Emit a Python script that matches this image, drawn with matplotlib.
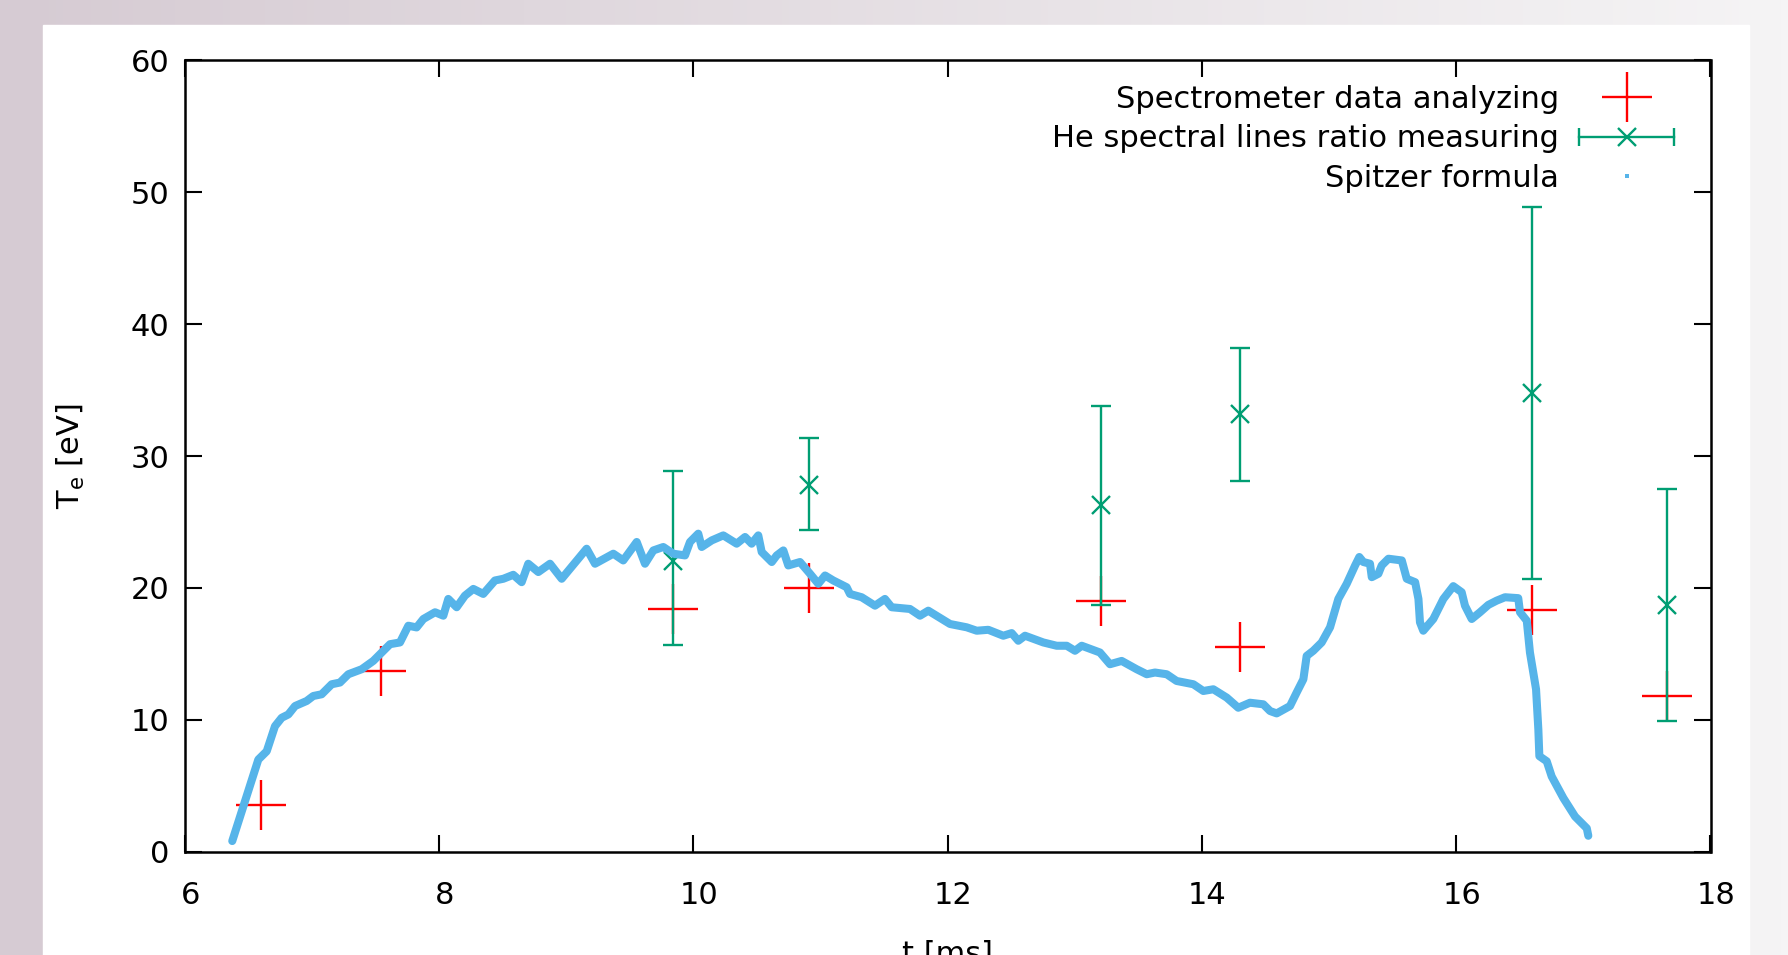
import numpy as np
import matplotlib
matplotlib.use("Agg")
import matplotlib.pyplot as plt
import matplotlib.transforms as mtrans
from matplotlib.lines import Line2D
from matplotlib.patches import Rectangle
from matplotlib.legend_handler import HandlerLine2D, HandlerTuple

# spectrometer points
spec_t = [6.60, 7.54, 9.84, 10.91, 13.21, 14.30, 16.60, 17.66]
spec_te = [3.5, 13.7, 18.4, 20.0, 19.0, 15.5, 18.3, 11.8]

# He line ratio points with error bars
he_t = [9.84, 10.91, 13.21, 14.30, 16.60, 17.66]
he_te = [22.0, 27.8, 26.3, 33.2, 34.8, 18.7]
he_lo = [15.7, 24.4, 18.7, 28.1, 20.7, 9.9]
he_hi = [28.9, 31.4, 33.8, 38.2, 48.9, 27.5]

# Spitzer formula curve
spitzer_t = [6.374, 6.461, 6.579, 6.645, 6.710, 6.763, 6.815, 6.868, 6.959, 7.011,
             7.077, 7.156, 7.221, 7.287, 7.392, 7.483, 7.615, 7.693, 7.759, 7.824,
             7.877, 7.969, 8.034, 8.073, 8.139, 8.204, 8.270, 8.348, 8.440, 8.506,
             8.584, 8.650, 8.702, 8.781, 8.873, 8.965, 9.096, 9.161, 9.227, 9.371,
             9.449, 9.555, 9.620, 9.686, 9.764, 9.843, 9.935, 9.974, 10.039, 10.066,
             10.145, 10.236, 10.341, 10.407, 10.459, 10.511, 10.538, 10.617, 10.656, 10.708,
             10.747, 10.839, 10.918, 10.983, 11.036, 11.101, 11.206, 11.232, 11.324, 11.429,
             11.507, 11.560, 11.704, 11.783, 11.848, 12.019, 12.150, 12.229, 12.320, 12.438,
             12.504, 12.556, 12.609, 12.753, 12.858, 12.937, 13.002, 13.055, 13.198, 13.277,
             13.369, 13.487, 13.566, 13.631, 13.723, 13.801, 13.933, 14.011, 14.090, 14.195,
             14.286, 14.378, 14.483, 14.536, 14.588, 14.693, 14.745, 14.798, 14.824, 14.876,
             14.942, 15.008, 15.073, 15.139, 15.205, 15.238, 15.270, 15.322, 15.336, 15.388,
             15.414, 15.467, 15.572, 15.611, 15.677, 15.703, 15.715, 15.741, 15.820, 15.899,
             15.977, 16.043, 16.069, 16.122, 16.187, 16.253, 16.318, 16.384, 16.488, 16.502,
             16.555, 16.580, 16.628, 16.646, 16.654, 16.712, 16.751, 16.843, 16.935, 17.027,
             17.039]
spitzer_te = [0.8, 3.42, 6.98, 7.61, 9.51, 10.15, 10.40, 11.04, 11.42, 11.80,
              11.93, 12.69, 12.82, 13.45, 13.83, 14.46, 15.73, 15.86, 17.13, 17.00,
              17.64, 18.15, 17.89, 19.16, 18.53, 19.41, 19.92, 19.54, 20.56, 20.69,
              20.99, 20.43, 21.83, 21.20, 21.83, 20.69, 22.21, 22.97, 21.83, 22.59,
              22.08, 23.48, 21.83, 22.84, 23.10, 22.59, 22.46, 23.48, 24.11, 23.10,
              23.60, 23.98, 23.35, 23.86, 23.35, 23.98, 22.72, 21.96, 22.46, 22.84,
              21.70, 21.96, 21.07, 20.31, 20.94, 20.56, 20.05, 19.54, 19.29, 18.65,
              19.16, 18.53, 18.40, 17.89, 18.27, 17.26, 17.01, 16.75, 16.82, 16.37,
              16.57, 15.99, 16.37, 15.86, 15.61, 15.61, 15.23, 15.61, 15.10, 14.21,
              14.46, 13.83, 13.45, 13.58, 13.45, 12.94, 12.69, 12.18, 12.31, 11.68,
              10.91, 11.29, 11.17, 10.66, 10.48, 11.04, 12.06, 13.07, 14.84, 15.23,
              15.86, 17.01, 19.16, 20.31, 21.70, 22.34, 21.96, 21.83, 20.81, 21.07,
              21.70, 22.21, 22.08, 20.69, 20.43, 19.16, 17.39, 16.75, 17.64, 19.16,
              20.13, 19.67, 18.65, 17.64, 18.15, 18.71, 19.03, 19.29, 19.22, 18.15,
              17.51, 15.10, 12.31, 9.27, 7.24, 6.85, 5.70, 4.06, 2.66, 1.77,
              1.2]

xticks = [6, 8, 10, 12, 14, 16, 18]
yticks = [0, 10, 20, 30, 40, 50, 60]

RED = "#ff0000"
GREEN = "#009e73"
BLUE = "#56b4e9"
FS = 22

plt.rcParams["font.family"] = ["DejaVu Sans"]

W, H = 1788, 955
fig = plt.figure(figsize=(W / 100, H / 100), dpi=100)

# slide background
bg = fig.add_axes([0, 0, 1, 1], zorder=-10)
c0 = np.array([214, 203, 211]) / 255
c1 = np.array([245, 244, 245]) / 255
g = np.linspace(0, 1, 256)[None, :, None]
grad = c0 + (c1 - c0) * g
bg.imshow(grad, aspect="auto", extent=[0, W, H, 0])
bg.add_patch(Rectangle((43, 25), 1749 - 43, H - 25, color="white"))
bg.set_xlim(0, W)
bg.set_ylim(H, 0)
bg.axis("off")

ax = fig.add_axes([184.7 / W, 1 - 851.6 / H, 1525.8 / W, 791.2 / H], zorder=2)
ax.set_facecolor("white")

ax.plot(spec_t, spec_te, ls="none", marker="+", ms=36, mew=1.7, color=RED, zorder=3)
he = np.array(he_te)
ax.errorbar(he_t, he_te, yerr=[he - np.array(he_lo), np.array(he_hi) - he],
            fmt="x", ms=13, mew=1.7, color=GREEN, elinewidth=1.7,
            capsize=7, capthick=1.7, zorder=4)
ax.plot(spitzer_t, spitzer_te, color=BLUE, lw=5.8, solid_capstyle="round",
        solid_joinstyle="round", zorder=5)

ax.set_xlim(6, 18)
ax.set_ylim(0, 60)
ax.set_xticks(xticks)
ax.set_yticks(yticks)
ax.tick_params(direction="in", top=True, right=True, length=12.5, width=1.5,
               labelsize=FS, colors="black")
ax.tick_params(axis="x", pad=21)
ax.tick_params(axis="y", pad=11)
for s in ax.spines.values():
    s.set_linewidth(1.8)

# gnuplot puts the x tick labels a few pixels right of the ticks
shift = mtrans.ScaledTranslation(5.5 / 100, 0, fig.dpi_scale_trans)
for lab in ax.get_xticklabels():
    lab.set_transform(lab.get_transform() + shift)

ax.set_ylabel(r"T$_\mathregular{e}$ [eV]", fontsize=FS)
ax.yaxis.set_label_coords(-0.064, 0.5)
ax.set_xlabel("t [ms]", fontsize=FS, va="top")
ax.xaxis.set_label_coords(0.5, -0.1117)

# legend handles in gnuplot style
h_red = Line2D([], [], ls="none", marker="+", ms=36, mew=1.7, color=RED)
h_mid = Line2D([], [], color=GREEN, lw=1.7, marker="x", ms=13, mew=1.7)
h_caps = Line2D([], [], ls="none", marker="|", ms=12.5, mew=1.7, color=GREEN)
h_blue = Line2D([], [], ls="none", marker="s", ms=3.5, mew=0, color=BLUE)
leg = ax.legend([h_red, (h_mid, h_caps), h_blue],
                ["Spectrometer data analyzing", "He spectral lines ratio measuring",
                 "Spitzer formula"],
                handler_map={tuple: HandlerTuple(ndivide=1),
                             h_caps: HandlerLine2D(numpoints=2, marker_pad=0)},
                loc="upper right", bbox_to_anchor=(0.976, 0.969),
                markerfirst=False, frameon=False, fontsize=FS,
                handlelength=3.1, handletextpad=0.65, labelspacing=0.34,
                borderpad=0, borderaxespad=0, numpoints=1)
for t in leg.get_texts():
    t.set_ha("right")

fig.savefig("out.png", dpi=100)
